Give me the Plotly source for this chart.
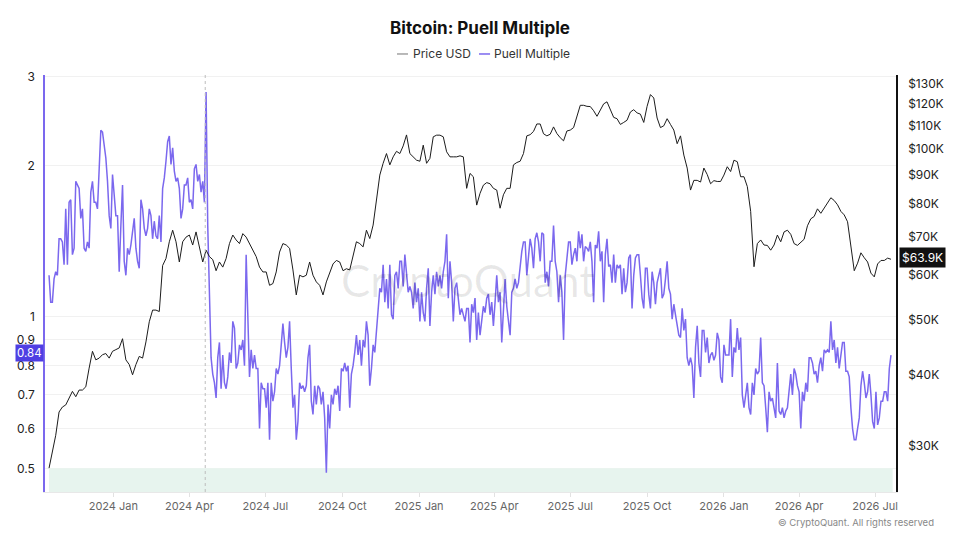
import math
import pandas as pd
import plotly.graph_objects as go

# ---------------- data ----------------
start_date = "2023-10-16"

# Puell Multiple read every 2 days: puell_a = days 0, 4, 8, ...; puell_b = days 2, 6, 10, ...
puell_a = [
    1.21, 1.07, 1.23, 1.43, 1.41, 1.64, 1.69, 1.33, 1.86, 1.80,
    1.64, 1.35, 1.37, 1.86, 1.69, 1.97, 2.33, 2.07, 1.59, 1.92,
    1.59, 1.23, 1.83, 1.21, 1.33, 1.50, 1.37, 1.25, 1.64, 1.45,
    1.64, 1.43, 1.45, 1.59, 1.80, 2.04, 2.29, 2.17, 1.86, 1.80,
    1.64, 1.83, 1.69, 1.64, 2.01, 1.92, 1.86, 2.80, 1.12, 0.77,
    0.69, 0.89, 0.84, 0.72, 0.85, 0.98, 0.79, 0.88, 0.90, 1.33,
    0.76, 0.79, 0.79, 0.60, 0.72, 0.66, 0.57, 0.68, 0.79, 0.80,
    0.97, 0.83, 0.98, 0.66, 0.57, 0.74, 0.73, 0.73, 0.88, 0.64,
    0.67, 0.72, 0.71, 0.49, 0.60, 0.67, 0.70, 0.65, 0.78, 0.78,
    0.66, 0.80, 0.92, 0.90, 0.90, 0.98, 0.73, 0.88, 0.93, 1.14,
    1.27, 1.19, 1.27, 0.99, 1.23, 1.29, 1.15, 1.21, 1.15, 1.04,
    1.07, 0.98, 1.02, 1.14, 0.96, 1.21, 1.23, 1.21, 1.23, 1.46,
    1.29, 0.98, 1.17, 1.01, 1.01, 1.04, 0.89, 1.02, 0.90, 0.92,
    1.05, 1.09, 1.01, 0.96, 1.21, 1.12, 1.04, 1.05, 0.92, 1.14,
    1.14, 1.27, 1.41, 1.21, 1.43, 1.25, 1.47, 1.29, 1.46, 1.23,
    1.29, 1.52, 1.23, 1.21, 0.90, 1.29, 1.41, 1.33, 1.29, 1.37,
    1.29, 1.37, 1.41, 1.07, 1.37, 1.29, 1.07, 1.43, 1.27, 1.33,
    1.27, 1.27, 1.25, 1.17, 1.33, 1.21, 1.33, 1.21, 1.04, 1.25,
    1.04, 1.17, 1.17, 1.25, 1.11, 1.29, 1.11, 1.06, 0.96, 0.91,
    0.94, 0.83, 0.83, 0.69, 0.96, 0.76, 0.94, 0.91, 0.84, 0.82,
    0.93, 0.76, 0.88, 0.84, 0.99, 0.87, 0.95, 0.91, 0.66, 0.74,
    0.64, 0.70, 0.77, 0.91, 0.73, 0.59, 0.68, 0.66, 0.81, 0.64,
    0.63, 0.66, 0.77, 0.79, 0.73, 0.60, 0.68, 0.71, 0.83, 0.77,
    0.74, 0.83, 0.86, 0.86, 0.98, 0.90, 0.87, 0.83, 0.89, 0.78,
    0.66, 0.57, 0.60, 0.73, 0.74, 0.71, 0.70, 0.60, 0.61, 0.68,
    0.71, 0.68, 0.84,
]
puell_b = [
    1.07, 1.19, 1.21, 1.43, 1.27, 1.27, 1.71, 1.37, 1.83, 1.57,
    1.37, 1.41, 1.77, 1.69, 1.64, 2.35, 2.20, 1.86, 1.50, 1.75,
    1.59, 1.52, 1.29, 1.37, 1.39, 1.57, 1.29, 1.71, 1.50, 1.50,
    1.59, 1.55, 1.43, 1.41, 1.89, 2.23, 2.01, 1.95, 1.89, 1.57,
    1.83, 1.89, 1.71, 1.97, 1.86, 1.77, 1.69, 1.52, 0.83, 0.74,
    0.83, 0.72, 0.74, 0.76, 0.81, 0.95, 0.81, 0.86, 0.80, 1.00,
    0.86, 0.84, 0.79, 0.74, 0.72, 0.74, 0.74, 0.71, 0.77, 0.88,
    0.89, 0.87, 0.79, 0.70, 0.62, 0.72, 0.71, 0.83, 0.68, 0.73,
    0.73, 0.67, 0.63, 0.67, 0.70, 0.72, 0.73, 0.79, 0.81, 0.80,
    0.77, 0.85, 0.84, 0.80, 0.87, 0.92, 0.79, 0.85, 1.04, 1.12,
    1.07, 1.04, 1.01, 1.21, 1.14, 1.29, 1.33, 1.12, 1.12, 1.17,
    1.14, 1.12, 0.98, 1.25, 1.12, 1.11, 1.15, 1.14, 1.29, 1.09,
    1.17, 1.14, 1.09, 1.04, 0.98, 1.04, 1.06, 1.09, 1.02, 0.99,
    1.02, 1.11, 1.07, 1.07, 1.07, 0.89, 1.19, 0.99, 1.12, 1.19,
    1.17, 1.35, 1.41, 1.33, 1.37, 1.43, 1.41, 1.47, 1.17, 1.15,
    1.29, 1.29, 1.07, 1.12, 1.21, 1.41, 1.27, 1.37, 1.48, 1.46,
    1.38, 1.35, 1.29, 1.39, 1.48, 1.35, 1.33, 1.26, 1.17, 1.17,
    1.25, 1.11, 1.12, 1.31, 1.04, 1.31, 1.33, 1.09, 1.25, 1.11,
    1.23, 1.06, 1.21, 1.09, 1.19, 1.14, 0.99, 1.01, 0.92, 1.04,
    0.99, 0.80, 0.80, 0.87, 0.81, 0.94, 0.85, 0.81, 0.85, 0.84,
    0.90, 0.74, 0.84, 0.84, 0.76, 0.85, 0.86, 0.70, 0.71, 0.66,
    0.74, 0.79, 0.78, 0.74, 0.66, 0.71, 0.69, 0.63, 0.65, 0.66,
    0.65, 0.71, 0.70, 0.77, 0.71, 0.71, 0.74, 0.83, 0.81, 0.78,
    0.80, 0.78, 0.85, 0.85, 0.86, 0.81, 0.79, 0.89, 0.78, 0.76,
    0.60, 0.57, 0.63, 0.78, 0.69, 0.77, 0.62, 0.71, 0.63, 0.68,
    0.71, 0.79,
]

# Price USD (thousands) read every 4 days
price_k = [
    27.4, 29.3, 31.3, 34.4, 35.1, 35.4, 36.4, 37.4, 36.6, 37.6,
    37.6, 38.1, 41.1, 44.0, 42.5, 42.8, 43.4, 43.6, 42.8, 44.0,
    44.3, 44.6, 46.3, 42.5, 41.7, 40.0, 41.7, 43.1, 42.8, 45.7,
    49.6, 52.0, 52.0, 51.7, 62.3, 64.1, 68.6, 71.9, 68.6, 63.2,
    68.6, 69.9, 70.5, 67.7, 71.4, 66.8, 63.2, 66.3, 64.6, 63.8,
    61.0, 63.2, 61.9, 64.1, 68.1, 70.5, 69.1, 68.1, 70.9, 69.9,
    68.1, 66.3, 64.6, 61.9, 60.7, 60.7, 57.5, 57.9, 60.7, 65.8,
    68.1, 67.7, 66.8, 61.2, 55.3, 59.9, 59.5, 59.9, 63.2, 59.9,
    58.3, 57.5, 55.3, 58.3, 60.7, 62.7, 63.6, 63.2, 61.0, 61.5,
    61.2, 65.0, 68.6, 68.1, 67.2, 71.9, 69.5, 73.4, 82.0, 89.9,
    94.3, 98.1, 93.7, 96.8, 99.0, 98.1, 101.2, 105.8, 98.1, 96.8,
    95.5, 95.1, 101.5, 94.3, 96.2, 105.0, 105.7, 105.7, 105.0, 98.8,
    96.8, 96.8, 96.8, 97.2, 96.8, 85.2, 90.5, 89.3, 79.6, 83.5,
    86.3, 87.2, 86.8, 85.2, 84.6, 78.6, 83.0, 85.2, 85.2, 93.7,
    94.6, 95.1, 98.1, 105.4, 105.9, 107.3, 110.6, 110.6, 106.3, 105.4,
    106.1, 109.3, 106.4, 104.6, 103.3, 107.5, 107.9, 109.0, 113.6, 119.3,
    119.3, 118.8, 118.7, 116.7, 114.1, 116.7, 120.0, 121.0, 117.2, 113.6,
    113.0, 110.4, 111.3, 112.3, 116.1, 117.2, 115.7, 115.1, 111.3, 118.8,
    124.6, 122.9, 113.3, 109.0, 109.8, 113.0, 110.4, 107.9, 102.1, 105.4,
    97.5, 92.5, 84.6, 88.0, 88.0, 87.4, 92.5, 90.1, 86.8, 87.9,
    87.6, 87.6, 89.9, 93.0, 91.2, 95.5, 94.9, 89.3, 89.3, 85.8,
    77.6, 62.0, 68.1, 69.1, 67.7, 67.6, 66.3, 67.7, 70.5, 68.6,
    71.4, 71.9, 70.7, 68.1, 67.6, 68.4, 69.3, 73.2, 75.3, 76.0,
    78.4, 77.0, 78.6, 80.6, 82.0, 81.1, 79.7, 77.6, 76.5, 74.4,
    67.7, 61.0, 62.9, 65.6, 64.3, 63.2, 60.4, 59.5, 62.7, 63.6,
    63.6, 64.2, 63.9,
]

puell = []
for k, va in enumerate(puell_a):
    puell.append(va)
    if k < len(puell_b):
        puell.append(puell_b[k])

puell_dates = pd.date_range(start_date, periods=len(puell), freq="2D")
price_dates = pd.date_range(start_date, periods=len(price_k), freq="4D")

halving_date = "2024-04-20"
band_end_date = "2026-07-22"
band_low, band_top = 0.3, 0.5

puell_ticks = [0.5, 0.6, 0.7, 0.8, 0.9, 1, 2, 3]
puell_tick_text = ["0.5", "0.6", "0.7", "0.8", "0.9", "1", "2", "3"]
price_ticks = [30, 40, 50, 60, 70, 80, 90, 100, 110, 120, 130]
price_tick_text = ["$30K", "$40K", "$50K", "$60K", "$70K", "$80K", "$90K",
                   "$100K", "$110K", "$120K", "$130K"]

last_puell_label = "0.84"
last_price_label = "$63.9K"

PURPLE = "#7b68ee"
PRICE_COLOR = "#1c1c1c"
FONT = "Inter, Roboto, Noto Sans, sans-serif"

# ---------------- figure ----------------
fig = go.Figure()
# green zone below 0.5
fig.add_trace(go.Scatter(
    x=[puell_dates[0], band_end_date, band_end_date, puell_dates[0]],
    y=[band_low, band_low, band_top, band_top],
    fill="toself", fillcolor="#e7f4ee", mode="lines", line=dict(width=0),
    hoverinfo="skip", showlegend=False, yaxis="y",
))
fig.add_trace(go.Scatter(
    x=puell_dates, y=puell, name="Puell Multiple", mode="lines",
    line=dict(color=PURPLE, width=1.5), yaxis="y",
))
fig.add_trace(go.Scatter(
    x=price_dates, y=price_k, name="Price USD", mode="lines",
    line=dict(color=PRICE_COLOR, width=1), yaxis="y2",
))

shapes = [
    # halving line
    dict(type="line", xref="x", yref="paper", x0=halving_date, x1=halving_date,
         y0=0, y1=1, line=dict(color="#bdbdbd", width=1, dash="3px,3px")),
    # legend keys
    dict(type="line", xref="paper", yref="paper", x0=0.4136, x1=0.4266,
         y0=1.0504, y1=1.0504, line=dict(color="#8a8a8a", width=1.2)),
    dict(type="line", xref="paper", yref="paper", x0=0.5100, x1=0.5230,
         y0=1.0504, y1=1.0504, line=dict(color=PURPLE, width=1.5)),
]

annotations = [
    dict(text="CryptoQuant", xref="paper", yref="paper", x=0.497, y=0.508,
         showarrow=False, font=dict(size=44, color="rgba(0,0,0,0.09)", family="Lato")),
    dict(text="Price USD", xref="paper", yref="paper",
         x=0.4300, y=1.0504, xanchor="left", yanchor="middle", showarrow=False,
         font=dict(size=12, color="#333", family=FONT)),
    dict(text="Puell Multiple", xref="paper", yref="paper",
         x=0.5255, y=1.0504, xanchor="left", yanchor="middle", showarrow=False,
         font=dict(size=12, color="#333", family=FONT)),
    dict(text=last_puell_label, xref="paper", yref="y", x=0, y=math.log10(puell[-1]),
         xanchor="right", yanchor="middle", showarrow=False, xshift=-1, yshift=2,
         bgcolor="#4f3fe3", borderpad=1, font=dict(size=11.5, color="white", family=FONT)),
    dict(text=last_price_label, xref="paper", yref="y2", x=1, y=math.log10(price_k[-1]),
         xanchor="left", yanchor="middle", showarrow=False, xshift=3, yshift=2,
         bgcolor="#111111", borderpad=2, font=dict(size=12, color="white", family=FONT)),
    dict(text="© CryptoQuant. All rights reserved", xref="paper", yref="paper",
         x=1.047, y=-0.074, xanchor="right", yanchor="middle", showarrow=False,
         font=dict(size=9.5, color="#888", family=FONT)),
]

fig.update_layout(
    width=960, height=540,
    margin=dict(l=45, r=64, t=75, b=48),
    paper_bgcolor="white", plot_bgcolor="white",
    font=dict(family=FONT, color="#222"),
    showlegend=False,
    title=dict(text="<b>Bitcoin: Puell Multiple</b>", x=0.5, xanchor="center",
               y=1 - 28 / 540, yanchor="middle",
               font=dict(size=17, color="#111", family=FONT)),
    xaxis=dict(
        type="date", range=["2023-10-11 04:00", "2026-07-26"],
        tick0="2024-01-01", dtick="M3", tickformat="%Y %b",
        ticks="outside", ticklen=4, tickcolor="#e2e2e2",
        showgrid=False, showline=True, linecolor="#e8e8e8", zeroline=False,
        tickfont=dict(size=11, color="#666"),
    ),
    yaxis=dict(
        type="log", range=[-0.348, 0.481],
        tickvals=puell_ticks, ticktext=puell_tick_text,
        showgrid=True, gridcolor="#f1f1f1", zeroline=False,
        showline=True, linecolor=PURPLE, linewidth=1.5,
        ticks="", ticklabelstandoff=6,
        tickfont=dict(size=12, color="#222"),
    ),
    yaxis2=dict(
        type="log", range=[math.log10(24.87), math.log10(134.9)],
        overlaying="y", side="right",
        tickvals=price_ticks, ticktext=price_tick_text,
        showgrid=False, zeroline=False,
        showline=True, linecolor="#111", linewidth=1.5,
        ticks="", ticklabelstandoff=8,
        tickfont=dict(size=12, color="#222"),
    ),
    shapes=shapes,
    annotations=annotations,
)

fig.write_html("out.html")
